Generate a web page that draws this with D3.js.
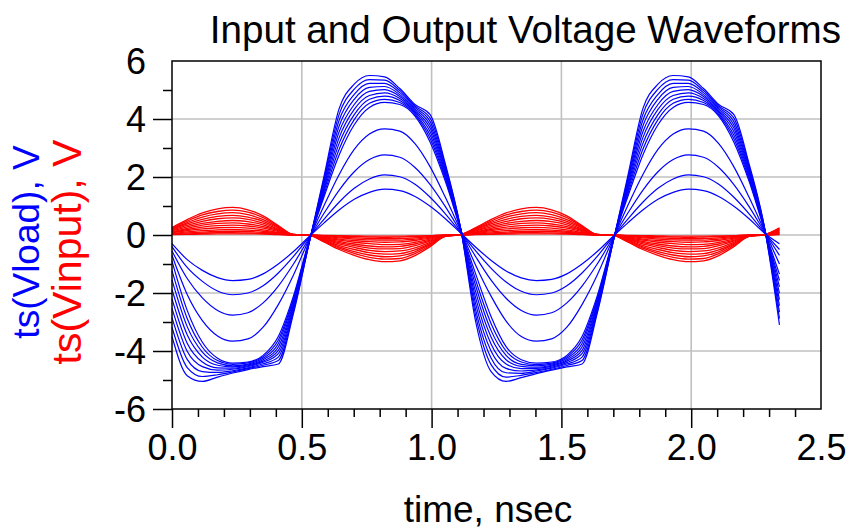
<!DOCTYPE html>
<html>
<head>
<meta charset="utf-8">
<script src="https://cdn.jsdelivr.net/npm/d3@7"></script>
<style>
  body { margin: 0; background: #fff; }
  text { font-family: "Liberation Sans", Arial, sans-serif; }
</style>
</head>
<body>
<div id="chart"></div>
<script>
// time axis, nsec
var timeNs = [0, 0.0585, 0.117, 0.1755, 0.234, 0.2925, 0.351, 0.4095, 0.468, 0.5265, 0.585, 0.6435, 0.702, 0.7605, 0.819, 0.8775, 0.936, 0.9945, 1.053, 1.1115, 1.17, 1.2285, 1.287, 1.3455, 1.404, 1.4625, 1.521, 1.5795, 1.638, 1.6965, 1.755, 1.8135, 1.872, 1.9305, 1.989, 2.0475, 2.106, 2.1645, 2.223, 2.2815, 2.34];

// ts(Vload), one row per sweep step
var vloadCurves = [
  [-0.3, -0.85, -1.22, -1.47, -1.57, -1.53, -1.34, -1.0, -0.57, -0.07, 0.41, 0.86, 1.23, 1.47, 1.58, 1.53, 1.33, 0.99, 0.56, 0.07, -0.42, -0.87, -1.24, -1.48, -1.57, -1.53, -1.34, -1.0, -0.57, -0.07, 0.41, 0.86, 1.23, 1.47, 1.58, 1.53, 1.33, 0.99, 0.56, 0.07, -0.3],
  [-0.4, -1.12, -1.6, -1.93, -2.06, -2.0, -1.75, -1.31, -0.74, -0.09, 0.54, 1.13, 1.61, 1.93, 2.07, 2.01, 1.75, 1.3, 0.73, 0.09, -0.55, -1.14, -1.62, -1.94, -2.06, -2.0, -1.75, -1.31, -0.74, -0.09, 0.54, 1.13, 1.61, 1.93, 2.07, 2.01, 1.75, 1.3, 0.73, 0.09, -0.5],
  [-0.55, -1.5, -2.17, -2.6, -2.76, -2.68, -2.34, -1.76, -1.0, -0.13, 0.74, 1.54, 2.18, 2.6, 2.76, 2.68, 2.33, 1.74, 0.98, 0.12, -0.75, -1.55, -2.18, -2.6, -2.76, -2.68, -2.34, -1.76, -1.0, -0.13, 0.74, 1.54, 2.18, 2.6, 2.76, 2.68, 2.33, 1.74, 0.98, 0.12, -0.7],
  [-0.7, -2.05, -2.95, -3.48, -3.66, -3.58, -3.18, -2.4, -1.38, -0.17, 1.0, 2.08, 2.95, 3.48, 3.66, 3.58, 3.15, 2.35, 1.3, 0.16, -1.05, -2.1, -2.97, -3.5, -3.66, -3.58, -3.18, -2.4, -1.38, -0.17, 1.0, 2.08, 2.95, 3.48, 3.66, 3.58, 3.15, 2.35, 1.3, 0.16, -1.0],
  [-0.9, -2.6, -3.7, -4.25, -4.42, -4.38, -4.15, -3.5, -2.1, -0.25, 1.3, 2.75, 3.8, 4.4, 4.57, 4.5, 4.1, 3.2, 1.85, 0.2, -1.35, -2.8, -3.85, -4.3, -4.42, -4.38, -4.15, -3.5, -2.1, -0.25, 1.3, 2.75, 3.8, 4.4, 4.57, 4.5, 4.1, 3.2, 1.85, 0.2, -1.35],
  [-1.23, -2.88, -3.87, -4.33, -4.46, -4.41, -4.2, -3.62, -2.18, -0.26, 1.39, 2.95, 3.98, 4.54, 4.68, 4.57, 4.15, 3.32, 1.93, 0.21, -1.56, -3.04, -4.0, -4.38, -4.47, -4.42, -4.2, -3.62, -2.18, -0.26, 1.39, 2.95, 3.98, 4.54, 4.68, 4.57, 4.15, 3.32, 1.93, 0.21, -1.57],
  [-1.55, -3.16, -4.04, -4.41, -4.51, -4.45, -4.25, -3.74, -2.25, -0.28, 1.48, 3.15, 4.15, 4.68, 4.79, 4.64, 4.2, 3.44, 2.0, 0.21, -1.76, -3.28, -4.15, -4.46, -4.51, -4.45, -4.25, -3.74, -2.25, -0.28, 1.48, 3.15, 4.15, 4.68, 4.79, 4.64, 4.2, 3.44, 2.0, 0.23, -1.79],
  [-1.88, -3.44, -4.21, -4.49, -4.55, -4.48, -4.3, -3.86, -2.33, -0.29, 1.56, 3.35, 4.33, 4.81, 4.9, 4.71, 4.25, 3.56, 2.08, 0.22, -1.97, -3.51, -4.3, -4.53, -4.56, -4.49, -4.3, -3.86, -2.33, -0.29, 1.56, 3.35, 4.33, 4.81, 4.9, 4.71, 4.25, 3.56, 2.08, 0.24, -2.01],
  [-2.2, -3.73, -4.38, -4.58, -4.59, -4.51, -4.35, -3.98, -2.4, -0.3, 1.65, 3.55, 4.5, 4.95, 5.01, 4.78, 4.3, 3.68, 2.15, 0.23, -2.18, -3.75, -4.45, -4.61, -4.6, -4.52, -4.35, -3.98, -2.4, -0.3, 1.65, 3.55, 4.5, 4.95, 5.01, 4.78, 4.3, 3.68, 2.15, 0.25, -2.23],
  [-2.53, -4.01, -4.54, -4.66, -4.63, -4.54, -4.39, -4.09, -2.48, -0.31, 1.74, 3.75, 4.68, 5.09, 5.12, 4.84, 4.35, 3.79, 2.23, 0.23, -2.38, -3.99, -4.6, -4.69, -4.65, -4.56, -4.4, -4.09, -2.48, -0.31, 1.74, 3.75, 4.68, 5.09, 5.12, 4.84, 4.35, 3.79, 2.23, 0.26, -2.44],
  [-2.85, -4.29, -4.71, -4.74, -4.68, -4.58, -4.44, -4.21, -2.55, -0.33, 1.83, 3.95, 4.85, 5.23, 5.23, 4.91, 4.4, 3.91, 2.3, 0.24, -2.59, -4.23, -4.75, -4.77, -4.69, -4.59, -4.45, -4.21, -2.55, -0.33, 1.83, 3.95, 4.85, 5.23, 5.23, 4.91, 4.4, 3.91, 2.3, 0.28, -2.66],
  [-3.18, -4.57, -4.88, -4.82, -4.72, -4.61, -4.49, -4.33, -2.63, -0.34, 1.91, 4.15, 5.03, 5.36, 5.34, 4.98, 4.45, 4.03, 2.38, 0.24, -2.79, -4.46, -4.9, -4.84, -4.74, -4.63, -4.5, -4.33, -2.63, -0.34, 1.91, 4.15, 5.03, 5.36, 5.34, 4.98, 4.45, 4.03, 2.38, 0.29, -2.88],
  [-3.5, -4.85, -5.05, -4.9, -4.76, -4.64, -4.54, -4.45, -2.7, -0.35, 2.0, 4.35, 5.2, 5.5, 5.45, 5.05, 4.5, 4.15, 2.45, 0.25, -3.0, -4.7, -5.05, -4.92, -4.78, -4.66, -4.55, -4.45, -2.7, -0.35, 2.0, 4.35, 5.2, 5.5, 5.45, 5.05, 4.5, 4.15, 2.45, 0.3, -3.1]
];

// ts(Vinput), one row per sweep step
var vinputCurves = [
  [0.26, 0.53, 0.76, 0.9, 0.95, 0.87, 0.66, 0.33, 0.02, 0, -0.24, -0.5, -0.7, -0.85, -0.92, -0.89, -0.71, -0.4, -0.05, 0.01, 0.26, 0.53, 0.76, 0.9, 0.95, 0.87, 0.66, 0.33, 0.02, 0, -0.24, -0.5, -0.7, -0.85, -0.92, -0.89, -0.71, -0.4, -0.05, 0.01, 0.25],
  [0.24, 0.48, 0.69, 0.81, 0.86, 0.79, 0.6, 0.3, 0.02, 0, -0.22, -0.45, -0.63, -0.77, -0.83, -0.81, -0.64, -0.36, -0.05, 0.01, 0.24, 0.48, 0.69, 0.81, 0.86, 0.79, 0.6, 0.3, 0.02, 0, -0.22, -0.45, -0.63, -0.77, -0.83, -0.81, -0.64, -0.36, -0.05, 0.01, 0.23],
  [0.21, 0.43, 0.62, 0.73, 0.77, 0.7, 0.53, 0.27, 0.02, 0, -0.19, -0.41, -0.57, -0.69, -0.75, -0.72, -0.58, -0.32, -0.04, 0.01, 0.21, 0.43, 0.62, 0.73, 0.77, 0.7, 0.53, 0.27, 0.02, 0, -0.19, -0.41, -0.57, -0.69, -0.75, -0.72, -0.58, -0.32, -0.04, 0.01, 0.2],
  [0.19, 0.38, 0.54, 0.64, 0.68, 0.62, 0.47, 0.24, 0.01, 0, -0.17, -0.36, -0.5, -0.61, -0.66, -0.64, -0.51, -0.29, -0.04, 0.01, 0.19, 0.38, 0.54, 0.64, 0.68, 0.62, 0.47, 0.24, 0.01, 0, -0.17, -0.36, -0.5, -0.61, -0.66, -0.64, -0.51, -0.29, -0.04, 0.01, 0.18],
  [0.16, 0.33, 0.47, 0.56, 0.59, 0.54, 0.41, 0.2, 0.01, 0, -0.15, -0.31, -0.43, -0.53, -0.57, -0.55, -0.44, -0.25, -0.03, 0.01, 0.16, 0.33, 0.47, 0.56, 0.59, 0.54, 0.41, 0.2, 0.01, 0, -0.15, -0.31, -0.43, -0.53, -0.57, -0.55, -0.44, -0.25, -0.03, 0.01, 0.16],
  [0.14, 0.28, 0.4, 0.47, 0.5, 0.46, 0.35, 0.17, 0.01, 0, -0.13, -0.26, -0.37, -0.45, -0.48, -0.47, -0.37, -0.21, -0.03, 0.01, 0.14, 0.28, 0.4, 0.47, 0.5, 0.46, 0.35, 0.17, 0.01, 0, -0.13, -0.26, -0.37, -0.45, -0.48, -0.47, -0.37, -0.21, -0.03, 0.01, 0.13],
  [0.11, 0.23, 0.34, 0.4, 0.42, 0.38, 0.29, 0.15, 0.01, 0, -0.11, -0.22, -0.31, -0.38, -0.41, -0.39, -0.31, -0.18, -0.02, 0, 0.11, 0.23, 0.34, 0.4, 0.42, 0.38, 0.29, 0.15, 0.01, 0, -0.11, -0.22, -0.31, -0.38, -0.41, -0.39, -0.31, -0.18, -0.02, 0, 0.11],
  [0.09, 0.19, 0.27, 0.32, 0.34, 0.31, 0.24, 0.12, 0.01, 0, -0.09, -0.18, -0.25, -0.3, -0.33, -0.32, -0.25, -0.14, -0.02, 0, 0.09, 0.19, 0.27, 0.32, 0.34, 0.31, 0.24, 0.12, 0.01, 0, -0.09, -0.18, -0.25, -0.3, -0.33, -0.32, -0.25, -0.14, -0.02, 0, 0.09],
  [0.07, 0.15, 0.21, 0.25, 0.26, 0.24, 0.18, 0.09, 0.01, 0, -0.07, -0.14, -0.19, -0.23, -0.25, -0.24, -0.19, -0.11, -0.01, 0, 0.07, 0.15, 0.21, 0.25, 0.26, 0.24, 0.18, 0.09, 0.01, 0, -0.07, -0.14, -0.19, -0.23, -0.25, -0.24, -0.19, -0.11, -0.01, 0, 0.07],
  [0.05, 0.11, 0.15, 0.18, 0.19, 0.17, 0.13, 0.07, 0, 0, -0.05, -0.1, -0.14, -0.17, -0.18, -0.18, -0.14, -0.08, -0.01, 0, 0.05, 0.11, 0.15, 0.18, 0.19, 0.17, 0.13, 0.07, 0, 0, -0.05, -0.1, -0.14, -0.17, -0.18, -0.18, -0.14, -0.08, -0.01, 0, 0.05],
  [0.04, 0.07, 0.1, 0.12, 0.13, 0.12, 0.09, 0.05, 0, 0, -0.03, -0.07, -0.1, -0.12, -0.13, -0.12, -0.1, -0.05, -0.01, 0, 0.04, 0.07, 0.1, 0.12, 0.13, 0.12, 0.09, 0.05, 0, 0, -0.03, -0.07, -0.1, -0.12, -0.13, -0.12, -0.1, -0.05, -0.01, 0, 0.03],
  [0.02, 0.04, 0.06, 0.08, 0.08, 0.07, 0.06, 0.03, 0, 0, -0.02, -0.04, -0.06, -0.07, -0.08, -0.07, -0.06, -0.03, 0, 0, 0.02, 0.04, 0.06, 0.08, 0.08, 0.07, 0.06, 0.03, 0, 0, -0.02, -0.04, -0.06, -0.07, -0.08, -0.07, -0.06, -0.03, 0, 0, 0.02],
  [0.01, 0.02, 0.03, 0.04, 0.04, 0.04, 0.03, 0.01, 0, 0, -0.01, -0.02, -0.03, -0.04, -0.04, -0.04, -0.03, -0.02, 0, 0, 0.01, 0.02, 0.03, 0.04, 0.04, 0.04, 0.03, 0.01, 0, 0, -0.01, -0.02, -0.03, -0.04, -0.04, -0.04, -0.03, -0.02, 0, 0, 0.01]
];

var xTicks = [0, 0.5, 1.0, 1.5, 2.0, 2.5];
var xMinorTicks = [0.1, 0.2, 0.3, 0.4, 0.6, 0.7, 0.8, 0.9, 1.1, 1.2, 1.3, 1.4, 1.6, 1.7, 1.8, 1.9, 2.1, 2.2, 2.3, 2.4];
var yTicks = [-6, -4, -2, 0, 2, 4, 6];
var yMinorTicks = [-5, -3, -1, 1, 3, 5];
var xGrid = [0.5, 1.0, 1.5, 2.0];
var yGrid = [-4, -2, 0, 2, 4];

var width = 860, height = 531;
var margin = {top: 61, right: 39, bottom: 122, left: 172};

var svg = d3.select("#chart").append("svg")
    .attr("width", width)
    .attr("height", height);

var x = d3.scaleLinear().domain([0, 2.5]).range([margin.left, width - margin.right]);
var y = d3.scaleLinear().domain([-6, 6]).range([height - margin.bottom, margin.top]);

// grid
svg.append("g").selectAll("line.gx")
    .data(xGrid).enter().append("line")
    .attr("x1", function(d){ return x(d); })
    .attr("x2", function(d){ return x(d); })
    .attr("y1", y(-6)).attr("y2", y(6))
    .style("stroke", "#c0c0c0").style("stroke-width", 1.6);
svg.append("g").selectAll("line.gy")
    .data(yGrid).enter().append("line")
    .attr("x1", x(0)).attr("x2", x(2.5))
    .attr("y1", function(d){ return y(d); })
    .attr("y2", function(d){ return y(d); })
    .style("stroke", "#c0c0c0").style("stroke-width", 1.6);

var line = d3.line()
    .x(function(d, i){ return x(timeNs[i]); })
    .y(function(d){ return y(d); })
    .curve(d3.curveMonotoneX);

svg.append("g").selectAll("path")
    .data(vinputCurves).enter().append("path")
    .attr("d", line)
    .style("fill", "none").style("stroke", "#ff0000").style("stroke-width", 1.3);

svg.append("g").selectAll("path")
    .data(vloadCurves).enter().append("path")
    .attr("d", line)
    .style("fill", "none").style("stroke", "#0000ff").style("stroke-width", 1.2);

// frame
svg.append("rect")
    .attr("x", x(0)).attr("y", y(6))
    .attr("width", x(2.5) - x(0)).attr("height", y(-6) - y(6))
    .style("fill", "none").style("stroke", "#000").style("stroke-width", 1.5);

// axes
var fontFam = "Liberation Sans, Arial, sans-serif";

var xAxis = d3.axisBottom(x).tickValues(xTicks).tickSize(19).tickPadding(6).tickFormat(d3.format(".1f"));
var gx = svg.append("g")
    .attr("transform", "translate(0," + y(-6) + ")")
    .call(xAxis)
    .attr("font-size", 36).attr("font-family", fontFam);
gx.select(".domain").remove();
gx.selectAll(".tick").filter(function(d){ return d === 2.5; }).select("line").remove();
gx.selectAll("line").style("stroke-width", 1.5);

var xMinor = d3.axisBottom(x).tickValues(xMinorTicks).tickSize(8).tickFormat("");
svg.append("g")
    .attr("transform", "translate(0," + y(-6) + ")")
    .call(xMinor)
    .call(function(g){ g.select(".domain").remove(); })
    .selectAll("line").style("stroke-width", 1.5);

// plain hyphen for negatives, like the original plot
var yAxis = d3.axisLeft(y).tickValues(yTicks).tickSize(19).tickPadding(7)
    .tickFormat(function(d){ return String(d); });
var gy = svg.append("g")
    .attr("transform", "translate(" + x(0) + ",0)")
    .call(yAxis)
    .attr("font-size", 36).attr("font-family", fontFam);
gy.select(".domain").remove();
gy.selectAll(".tick").filter(function(d){ return d === 6; }).select("line").remove();
gy.selectAll("line").style("stroke-width", 1.5);
gy.selectAll("text").attr("dy", "0.36em");

var yMinor = d3.axisLeft(y).tickValues(yMinorTicks).tickSize(9).tickFormat("");
svg.append("g")
    .attr("transform", "translate(" + x(0) + ",0)")
    .call(yMinor)
    .call(function(g){ g.select(".domain").remove(); })
    .selectAll("line").style("stroke-width", 1.5);

// titles
svg.append("text")
    .attr("x", 841).attr("y", 43)
    .attr("text-anchor", "end")
    .style("font-size", "38.6px")
    .text("Input and Output Voltage Waveforms");

svg.append("text")
    .attr("x", 488).attr("y", 522)
    .attr("text-anchor", "middle")
    .style("font-size", "37px")
    .text("time, nsec");

svg.append("text")
    .attr("transform", "translate(39,242) rotate(-90)")
    .attr("text-anchor", "middle")
    .style("font-size", "37px")
    .style("fill", "#0000ff")
    .text("ts(Vload), V");

svg.append("text")
    .attr("transform", "translate(81,252) rotate(-90)")
    .attr("text-anchor", "middle")
    .style("font-size", "41px")
    .style("fill", "#ff0000")
    .text("ts(Vinput), V");
</script>
</body>
</html>
